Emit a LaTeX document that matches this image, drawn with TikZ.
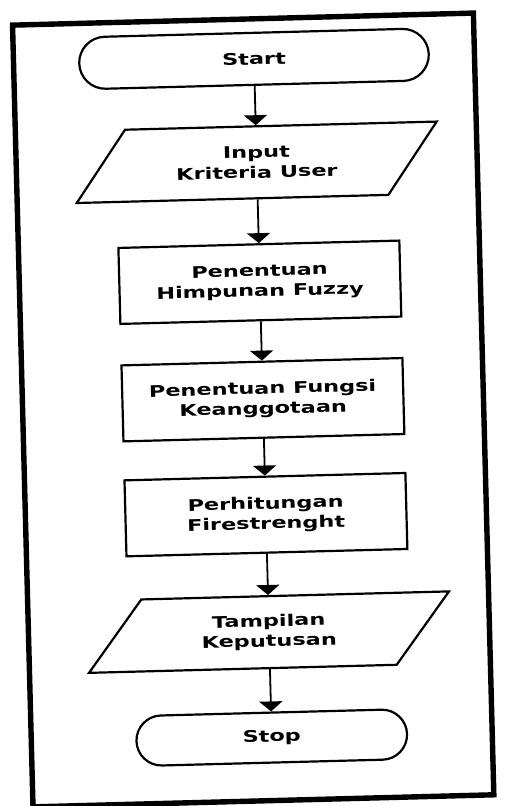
\documentclass[tikz,border=0pt]{standalone}
\usepackage{fontspec}
\newfontfamily\chartfont{DejaVu Sans}[FakeStretch=1.4]
\usetikzlibrary{shapes.misc,shapes.geometric,arrows.meta}

\tikzset{
    terminal/.style={draw, line width=1.1pt, rounded rectangle, minimum height=26pt},
    io/.style={draw, line width=1.1pt, trapezium, trapezium left angle=42, trapezium right angle=138,
        trapezium stretches body, minimum width=181pt, minimum height=36pt, align=center},
    process/.style={draw, line width=1.1pt, rectangle, minimum width=140.5pt, minimum height=38pt, align=center},
    flow/.style={line width=0.9pt, -{Triangle[width=11.5pt,length=5pt]}}
}

\begin{document}
\begin{tikzpicture}[x=0.5pt, y=-0.5pt, font=\chartfont\fontsize{8}{10}\selectfont\bfseries]
    \useasboundingbox (0,0) rectangle (504,806);
    \begin{scope}[rotate around={1.5:(252,403)}, transform shape]
        % Marco exterior
        \draw[line width=2.7pt] (22.5,19) rectangle (483.5,801);
        % Nodos del diagrama
        \node[terminal, minimum width=181.5pt] (start) at (263,59) {Start};
        \node[io] (input) at (263,162.5) {Input\\Kriteria User};
        \node[process] (himpunan) at (263,282.5) {Penentuan\\Himpunan Fuzzy};
        \node[process] (fungsi) at (263,400) {Penentuan Fungsi\\Keanggotaan};
        \node[process] (hitung) at (263,515) {Perhitungan\\Firestrenght};
        \node[io] (tampil) at (263,632.5) {Tampilan\\Keputusan};
        \node[terminal, minimum width=142pt, minimum height=25pt] (stop) at (263,738) {Stop};
        % Flechas
        \draw[flow] (start) -- (input);
        \draw[flow] (input) -- (himpunan);
        \draw[flow] (himpunan) -- (fungsi);
        \draw[flow] (fungsi) -- (hitung);
        \draw[flow] (hitung) -- (tampil);
        \draw[flow] (tampil) -- (stop);
    \end{scope}
\end{tikzpicture}
\end{document}
